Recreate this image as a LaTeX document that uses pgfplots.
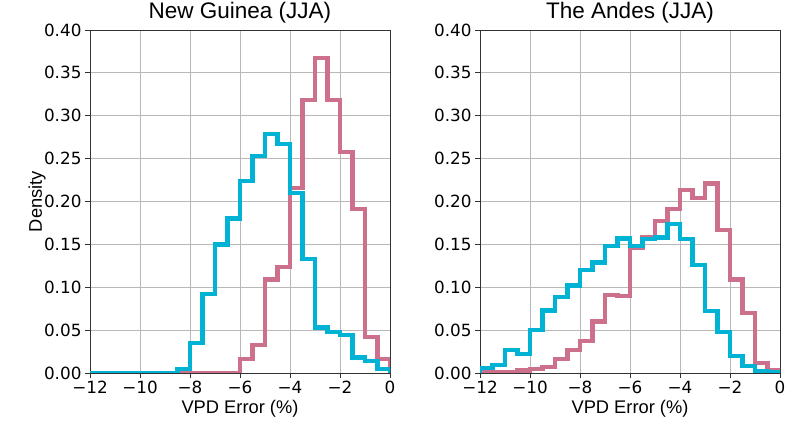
\documentclass[border=0pt]{standalone}
\usepackage{pgfplots}
\pgfplotsset{compat=1.18}
\usepackage{fontspec}
\setmainfont{Liberation Sans}
\newfontfamily\dejavu{DejaVu Sans}
\definecolor{cyanh}{RGB}{0,178,212}
\definecolor{pinkh}{RGB}{204,112,140}
\pgfplotsset{
  myaxis/.style={
    scale only axis, width=300pt, height=343pt, anchor=south west,
    xmin=-12, xmax=0, ymin=0, ymax=0.40,
    xtick={-12,-10,-8,-6,-4,-2,0},
    xticklabels={−12,−10,−8,−6,−4,−2,0},
    ytick={0,0.05,0.10,0.15,0.20,0.25,0.30,0.35,0.40},
    yticklabels={0.00,0.05,0.10,0.15,0.20,0.25,0.30,0.35,0.40},
    tick label style={font=\dejavu\fontsize{16.8}{19}\selectfont},
    xtick pos=bottom, ytick pos=left,
    tick align=outside, major tick length=5pt,
    every tick/.style={black!80, line width=0.8pt},
    axis line style={black!80, line width=0.8pt},
    grid=major, major grid style={black!28, line width=0.8pt},
    title style={font=\fontsize{22.5}{26}\selectfont, at={(axis description cs:0.5,1)}, anchor=base, yshift=5pt},
    xlabel style={font=\fontsize{18.3}{22}\selectfont, at={(axis description cs:0.5,0)}, anchor=base, yshift=-41pt},
    ylabel style={font=\fontsize{18.3}{22}\selectfont, at={(axis description cs:-0.16,0.5)}, anchor=base},
    xlabel={VPD Error (\%)},
    every axis plot/.append style={const plot, line width=4.3pt, line join=miter, line cap=butt, mark=none},
  }
}
\begin{document}
\begin{tikzpicture}
\useasboundingbox (0,0) rectangle (800pt,422pt);
\begin{axis}[myaxis, at={(90pt,49pt)}, title={New Guinea (JJA)}, ylabel={Density}]
\addplot[pinkh] coordinates {(-8.5,0) (-6,0.016) (-5.5,0.033) (-5,0.109) (-4.5,0.124) (-4,0.216) (-3.5,0.318) (-3,0.367) (-2.5,0.318) (-2,0.258) (-1.5,0.191) (-1,0.042) (-0.5,0.016) (0,0.016) (0,0)};
\addplot[cyanh] coordinates {(-12,0) (-8.5,0.005) (-8,0.035) (-7.5,0.092) (-7,0.150) (-6.5,0.180) (-6,0.224) (-5.5,0.253) (-5,0.279) (-4.5,0.267) (-4,0.210) (-3.5,0.133) (-3,0.053) (-2.5,0.048) (-2,0.044) (-1.5,0.018) (-1,0.014) (-0.5,0.005) (0,0.005) (0,0)};
\end{axis}
\begin{axis}[myaxis, at={(480pt,49pt)}, title={The Andes (JJA)}]
\addplot[pinkh] coordinates {(-12,0) (-12,0.001) (-10.5,0.003) (-10,0.005) (-9.5,0.007) (-9,0.016) (-8.5,0.027) (-8,0.037) (-7.5,0.060) (-7,0.091) (-6.5,0.090) (-6,0.146) (-5.5,0.158) (-5,0.177) (-4.5,0.191) (-4,0.213) (-3.5,0.204) (-3,0.221) (-2.5,0.167) (-2,0.109) (-1.5,0.070) (-1,0.012) (-0.5,0.003) (0,0.003) (0,0)};
\addplot[cyanh] coordinates {(-12,0) (-12,0.006) (-11.5,0.009) (-11,0.027) (-10.5,0.022) (-10,0.050) (-9.5,0.073) (-9,0.089) (-8.5,0.102) (-8,0.120) (-7.5,0.129) (-7,0.148) (-6.5,0.157) (-6,0.148) (-5.5,0.156) (-5,0.158) (-4.5,0.174) (-4,0.156) (-3.5,0.126) (-3,0.072) (-2.5,0.048) (-2,0.020) (-1.5,0.008) (-1,0.002) (-0.5,0.001) (0,0.001) (0,0)};
\end{axis}
\end{tikzpicture}
\end{document}
